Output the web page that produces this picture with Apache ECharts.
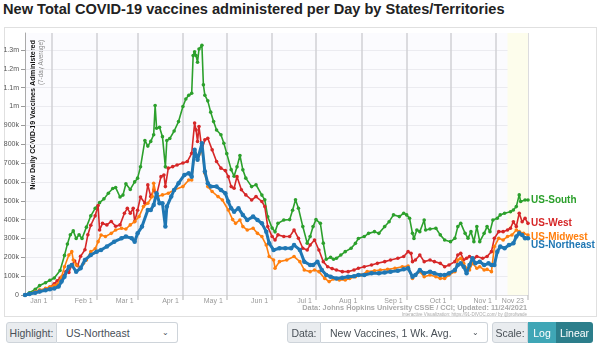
<!DOCTYPE html>
<html><head><meta charset="utf-8">
<script src="https://cdn.jsdelivr.net/npm/echarts@6/dist/echarts.min.js"></script>
<style>
body{margin:0;width:600px;height:344px;overflow:hidden;background:#fff;font-family:"Liberation Sans",Arial,Helvetica,sans-serif;}
#title{position:absolute;left:3px;top:1px;font-size:14.6px;font-weight:bold;color:#222;white-space:nowrap;}
#frame{position:absolute;left:4px;top:27px;width:591px;height:288px;border:1px solid #e0e0e0;}
#chart{position:absolute;left:0;top:0;width:600px;height:344px;}
.grp{position:absolute;top:322px;height:21px;display:flex;font-size:10.5px;color:#495057;}
.lab{background:#e9ecef;border:1px solid #ced4da;border-radius:3px 0 0 3px;display:flex;align-items:center;justify-content:center;box-sizing:border-box;height:21px;white-space:nowrap;}
.sel{background:#fff;border:1px solid #ced4da;border-left:none;border-radius:0 3px 3px 0;display:flex;align-items:center;justify-content:space-between;padding:0 8px 0 9px;box-sizing:border-box;height:21px;white-space:nowrap;}
.btn{display:flex;align-items:center;justify-content:center;color:#fff;box-sizing:border-box;height:21px;font-size:10.5px;}
</style></head>
<body>
<div id="title">New Total COVID-19 vaccines administered per Day by States/Territories</div>
<div id="frame"></div>
<div id="chart"></div>
<div class="grp" style="left:6px;"><div class="lab" style="width:51px;">Highlight:</div><div class="sel" style="width:121px;"><span>US-Northeast</span><span style="font-size:8px;">&#8964;</span></div></div>
<div class="grp" style="left:287px;"><div class="lab" style="width:34px;">Data:</div><div class="sel" style="width:167px;"><span>New Vaccines, 1 Wk. Avg.</span><span style="font-size:8px;">&#8964;</span></div></div>
<div class="grp" style="left:492px;"><div class="lab" style="width:36px;">Scale:</div><div class="btn" style="width:28px;background:#3fa6b6;">Log</div><div class="btn" style="width:37px;background:#2c7e8b;border-radius:0 3px 3px 0;">Linear</div></div>
<script>
// values in thousands; dates MM-DD (Dec = 2020, others 2021)
const seriesNames = ['US-South', 'US-West', 'US-Midwest', 'US-Northeast'];
const seriesColors = ['#2ca02c', '#d62728', '#ff7f0e', '#1f77b4'];

const south = [['12-14',0],['12-17',12],['12-21',30],['12-24',50],['12-28',65],['12-31',78],['01-03',90],['01-07',130],['01-10',210],['01-12',270],['01-14',320],['01-16',340],['01-18',300],['01-20',320],['01-22',300],['01-25',360],['01-28',420],['01-31',460],['02-03',490],['02-06',510],['02-09',540],['02-12',565],['02-14',570],['02-17',520],['02-19',530],['02-21',590],['02-24',560],['02-27',600],['03-01',620],['03-03',680],['03-06',820],['03-08',790],['03-10',815],['03-12',850],['03-13',1005],['03-14',885],['03-16',890],['03-18',840],['03-20',680],['03-21',820],['03-23',830],['03-26',870],['03-29',920],['04-01',1000],['04-03',1040],['04-05',1060],['04-07',1070],['04-08',1270],['04-09',1290],['04-10',1270],['04-11',1235],['04-12',1305],['04-14',1325],['04-15',1115],['04-16',1060],['04-18',1030],['04-20',970],['04-22',920],['04-24',875],['04-27',850],['04-29',805],['05-01',750],['05-04',665],['05-06',630],['05-08',680],['05-10',740],['05-12',664],['05-14',620],['05-18',575],['05-21',585],['05-25',530],['05-27',505],['05-29',415],['06-01',355],['06-03',335],['06-05',380],['06-09',398],['06-13',400],['06-15',450],['06-17',505],['06-19',460],['06-22',363],['06-25',275],['06-27',310],['06-29',363],['07-01',400],['07-04',380],['07-06',275],['07-08',190],['07-11',200],['07-13',190],['07-15',195],['07-18',212],['07-21',230],['07-25',248],['07-28',274],['07-30',300],['08-03',310],['08-06',327],['08-10',336],['08-13',327],['08-17',363],['08-20',389],['08-23',425],['08-27',416],['08-30',434],['09-01',425],['09-03',407],['09-05',327],['09-06',300],['09-08',345],['09-10',336],['09-13',398],['09-14',345],['09-17',350],['09-21',354],['09-24',319],['09-27',292],['10-01',283],['10-04',301],['10-06',363],['10-08',381],['10-11',327],['10-13',301],['10-15',336],['10-17',283],['10-19',363],['10-21',283],['10-24',327],['10-26',363],['10-28',336],['10-30',398],['11-02',407],['11-04',425],['11-07',434],['11-11',442],['11-13',451],['11-15',469],['11-17',531],['11-18',496],['11-21',504],['11-23',504]];

const west = [['12-14',0],['12-17',5],['12-21',12],['12-24',18],['12-28',28],['12-31',40],['01-03',60],['01-05',75],['01-07',90],['01-09',100],['01-11',125],['01-13',120],['01-15',160],['01-17',180],['01-19',155],['01-21',205],['01-24',240],['01-26',320],['01-28',370],['01-31',420],['02-02',475],['02-03',345],['02-05',380],['02-08',372],['02-11',390],['02-14',365],['02-17',372],['02-20',434],['02-22',460],['02-24',434],['02-26',460],['02-27',390],['03-01',450],['03-03',520],['03-06',487],['03-08',584],['03-10',522],['03-12',557],['03-14',531],['03-17',628],['03-19',637],['03-20',575],['03-22',673],['03-25',681],['03-28',690],['04-01',700],['04-04',708],['04-07',752],['04-09',912],['04-10',876],['04-11',814],['04-12',894],['04-14',770],['04-16',823],['04-18',832],['04-21',770],['04-24',708],['04-27',673],['04-30',660],['05-02',628],['05-04',575],['05-06',566],['05-08',628],['05-11',558],['05-14',531],['05-18',504],['05-21',522],['05-25',496],['05-27',469],['05-29',363],['06-01',310],['06-03',292],['06-05',319],['06-09',310],['06-13',310],['06-16',345],['06-19',301],['06-22',248],['06-25',239],['06-27',265],['06-30',292],['07-03',239],['07-06',177],['07-09',150],['07-12',140],['07-15',133],['07-19',124],['07-23',124],['07-27',133],['07-30',142],['08-03',150],['08-08',159],['08-12',168],['08-17',177],['08-21',186],['08-26',195],['08-30',204],['09-02',230],['09-04',221],['09-05',177],['09-07',186],['09-10',212],['09-13',177],['09-17',186],['09-20',177],['09-24',168],['09-27',150],['09-30',159],['10-04',177],['10-06',212],['10-08',221],['10-10',186],['10-12',195],['10-14',204],['10-17',195],['10-19',204],['10-23',195],['10-26',204],['10-29',230],['10-31',301],['11-03',336],['11-06',336],['11-09',345],['11-11',354],['11-13',389],['11-15',363],['11-17',434],['11-19',389],['11-21',407],['11-23',380]];

const midwest = [['12-14',0],['12-17',8],['12-21',18],['12-24',27],['12-28',35],['12-31',44],['01-03',50],['01-05',55],['01-08',97],['01-10',150],['01-13',212],['01-15',230],['01-16',186],['01-18',159],['01-21',145],['01-23',168],['01-25',186],['01-28',230],['01-31',245],['02-02',283],['02-04',318],['02-07',310],['02-11',327],['02-14',345],['02-18',354],['02-21',350],['02-24',372],['02-27',389],['03-02',416],['03-05',469],['03-08',487],['03-11',522],['03-12',593],['03-14',522],['03-18',531],['03-22',540],['03-26',557],['04-01',575],['04-05',610],['04-07',610],['04-09',752],['04-11',717],['04-14',770],['04-16',646],['04-18',575],['04-21',549],['04-25',522],['04-28',504],['05-02',451],['05-05',400],['05-07',380],['05-10',398],['05-12',363],['05-15',345],['05-19',354],['05-22',327],['05-25',310],['05-28',265],['05-30',204],['06-02',186],['06-03',142],['06-06',177],['06-11',186],['06-16',204],['06-20',177],['06-23',133],['06-27',124],['06-30',133],['07-03',124],['07-07',88],['07-10',71],['07-13',85],['07-17',80],['07-21',80],['07-24',88],['07-28',97],['08-01',106],['08-05',124],['08-10',129],['08-14',133],['08-19',136],['08-24',142],['08-29',150],['09-02',154],['09-05',88],['09-07',106],['09-10',124],['09-13',97],['09-17',106],['09-21',97],['09-24',88],['09-27',88],['09-30',106],['10-04',124],['10-06',186],['10-08',195],['10-10',168],['10-12',142],['10-14',133],['10-16',168],['10-19',142],['10-21',150],['10-24',133],['10-26',136],['10-29',124],['10-31',257],['11-03',301],['11-06',292],['11-09',310],['11-12',318],['11-15',345],['11-17',336],['11-20',327],['11-23',318]];

const northeast = [['12-14',0],['12-17',5],['12-21',12],['12-24',18],['12-28',25],['12-31',30],['01-03',35],['01-06',45],['01-08',71],['01-10',97],['01-13',150],['01-15',159],['01-18',124],['01-21',142],['01-24',186],['01-28',212],['02-01',230],['02-04',239],['02-08',257],['02-13',283],['02-18',301],['02-21',310],['02-25',301],['02-27',283],['03-01',327],['03-04',363],['03-08',451],['03-10',451],['03-12',478],['03-14',540],['03-16',487],['03-18',487],['03-20',363],['03-21',469],['03-24',522],['03-26',557],['03-29',593],['04-02',637],['04-05',646],['04-07',628],['04-09',770],['04-11',717],['04-14',805],['04-16',655],['04-18',593],['04-20',575],['04-24',575],['04-27',557],['04-30',540],['05-02',496],['05-04',460],['05-06',442],['05-09',460],['05-12',425],['05-15',398],['05-19',416],['05-22',398],['05-25',380],['05-28',336],['05-30',274],['06-02',239],['06-06',248],['06-10',248],['06-14',248],['06-16',265],['06-20',239],['06-23',177],['06-27',159],['06-29',159],['07-02',177],['07-05',133],['07-08',106],['07-11',97],['07-15',88],['07-19',92],['07-23',97],['07-27',100],['07-30',106],['08-03',106],['08-08',115],['08-13',115],['08-17',119],['08-21',124],['08-26',129],['08-30',136],['09-02',142],['09-05',97],['09-07',106],['09-10',133],['09-13',115],['09-17',124],['09-20',115],['09-24',106],['09-27',106],['09-30',115],['10-04',133],['10-06',159],['10-08',168],['10-10',150],['10-12',115],['10-14',159],['10-16',195],['10-18',168],['10-21',177],['10-24',159],['10-27',168],['10-29',159],['10-31',159],['11-02',230],['11-04',257],['11-07',248],['11-10',265],['11-13',274],['11-15',310],['11-17',327],['11-19',318],['11-21',301],['11-23',301]];

const xTickDates = ['01-01','02-01','03-01','04-01','05-01','06-01','07-01','08-01','09-01','10-01','11-01','11-23'];
const xTickLabels = ['Jan 1','Feb 1','Mar 1','Apr 1','May 1','Jun 1','Jul 1','Aug 1','Sep 1','Oct 1','Nov 1','Nov 23'];
const yTickValues = [0,100000,200000,300000,400000,500000,600000,700000,800000,900000,1000000,1100000,1200000,1300000];
const yTickLabels = ['0','100k','200k','300k','400k','500k','600k','700k','800k','900k','1m','1.1m','1.2m','1.3m'];

function ts(md){
  const m = parseInt(md.slice(0,2),10), d = parseInt(md.slice(3),10);
  const y = m === 12 ? 2020 : 2021;
  return Date.UTC(y, m-1, d);
}
const xTickTs = xTickDates.map(ts);
const allData = [south, west, midwest, northeast];
const labelOffsets = [[0,0],[0,0],[0,2],[0,7]];

const chart = echarts.init(document.getElementById('chart'), null, {renderer:'canvas'});
const series = allData.map((arr, i) => {
  const hl = i === 3;
  const s = {
    name: seriesNames[i],
    type: 'line',
    data: arr.map(p => [ts(p[0]), p[1]*1000]),
    color: seriesColors[i],
    symbol: 'circle',
    symbolSize: hl ? 4.5 : 3.6,
    showSymbol: true,
    lineStyle: {width: hl ? 3 : 1.6, color: seriesColors[i]},
    itemStyle: {color: seriesColors[i]},
    z: 2 + i,
    animation: false,
    endLabel: {show: true, formatter: '{a}', color: seriesColors[i], fontWeight: 'bold',
      fontSize: 10, fontFamily: 'Liberation Sans', distance: 3, offset: labelOffsets[i]}
  };
  if (i === 0) {
    s.markArea = {silent: true, itemStyle: {color: '#fdfdec'},
      data: [[{xAxis: ts('11-09')}, {xAxis: ts('11-23')}]]};
  }
  return s;
});

chart.setOption({
  animation: false,
  grid: {left: 25, right: 72, top: 33, bottom: 49, show: true, backgroundColor: '#fbfbfe', borderWidth: 0},
  xAxis: {
    type: 'value', min: ts('12-14'), max: ts('11-23'),
    axisLine: {show: true, lineStyle: {color: '#dddddd', width: 1}},
    axisTick: {show: true, length: 5, customValues: xTickTs, lineStyle: {color: '#cccccc', width: 1.5}},
    axisLabel: {customValues: xTickTs, fontSize: 7, color: '#999', align: 'right', margin: 3,
      padding: [0, 4, 0, 0], fontFamily: 'Liberation Sans',
      formatter: v => { const k = xTickTs.indexOf(v); return k >= 0 ? xTickLabels[k] : ''; }},
    splitLine: {show: true, lineStyle: {color: '#d0d0d4', width: 1.5}}
  },
  yAxis: {
    type: 'value', min: 0, max: 1390000, interval: 100000,
    axisLine: {show: true, lineStyle: {color: '#aaaaaa'}},
    axisTick: {show: true, length: 4, customValues: yTickValues, lineStyle: {color: '#999'}},
    axisLabel: {customValues: yTickValues, fontSize: 7, color: '#555', margin: 6, fontFamily: 'Liberation Sans',
      formatter: v => { const k = yTickValues.indexOf(v); return k >= 0 ? yTickLabels[k] : ''; }},
    splitLine: {show: true, lineStyle: {color: '#ebebf0', width: 1}}
  },
  series: series,
  graphic: [
    {type: 'text', x: 30, y: 40, rotation: Math.PI/2,
      style: {text: 'New Daily COVID-19 Vaccines Administered', fill: '#111', font: 'bold 7.2px "Liberation Sans"', align: 'right', verticalAlign: 'top'}},
    {type: 'text', x: 38, y: 40, rotation: Math.PI/2,
      style: {text: '(7-day Average)', fill: '#888', font: '6.3px "Liberation Sans"', align: 'right', verticalAlign: 'top'}},
    {type: 'text', x: 527, y: 304,
      style: {text: 'Data: Johns Hopkins University CSSE / CCI; Updated: 11/24/2021', fill: '#aaa', font: 'bold 7.3px "Liberation Sans"', align: 'right', verticalAlign: 'top'}},
    {type: 'text', x: 527, y: 312,
      style: {text: 'Interactive Visualization: https://91-DIVOC.com/ by @profwade', fill: '#aaa', font: '4.5px "Liberation Sans"', align: 'right', verticalAlign: 'top'}}
  ]
});
</script>
</body></html>
